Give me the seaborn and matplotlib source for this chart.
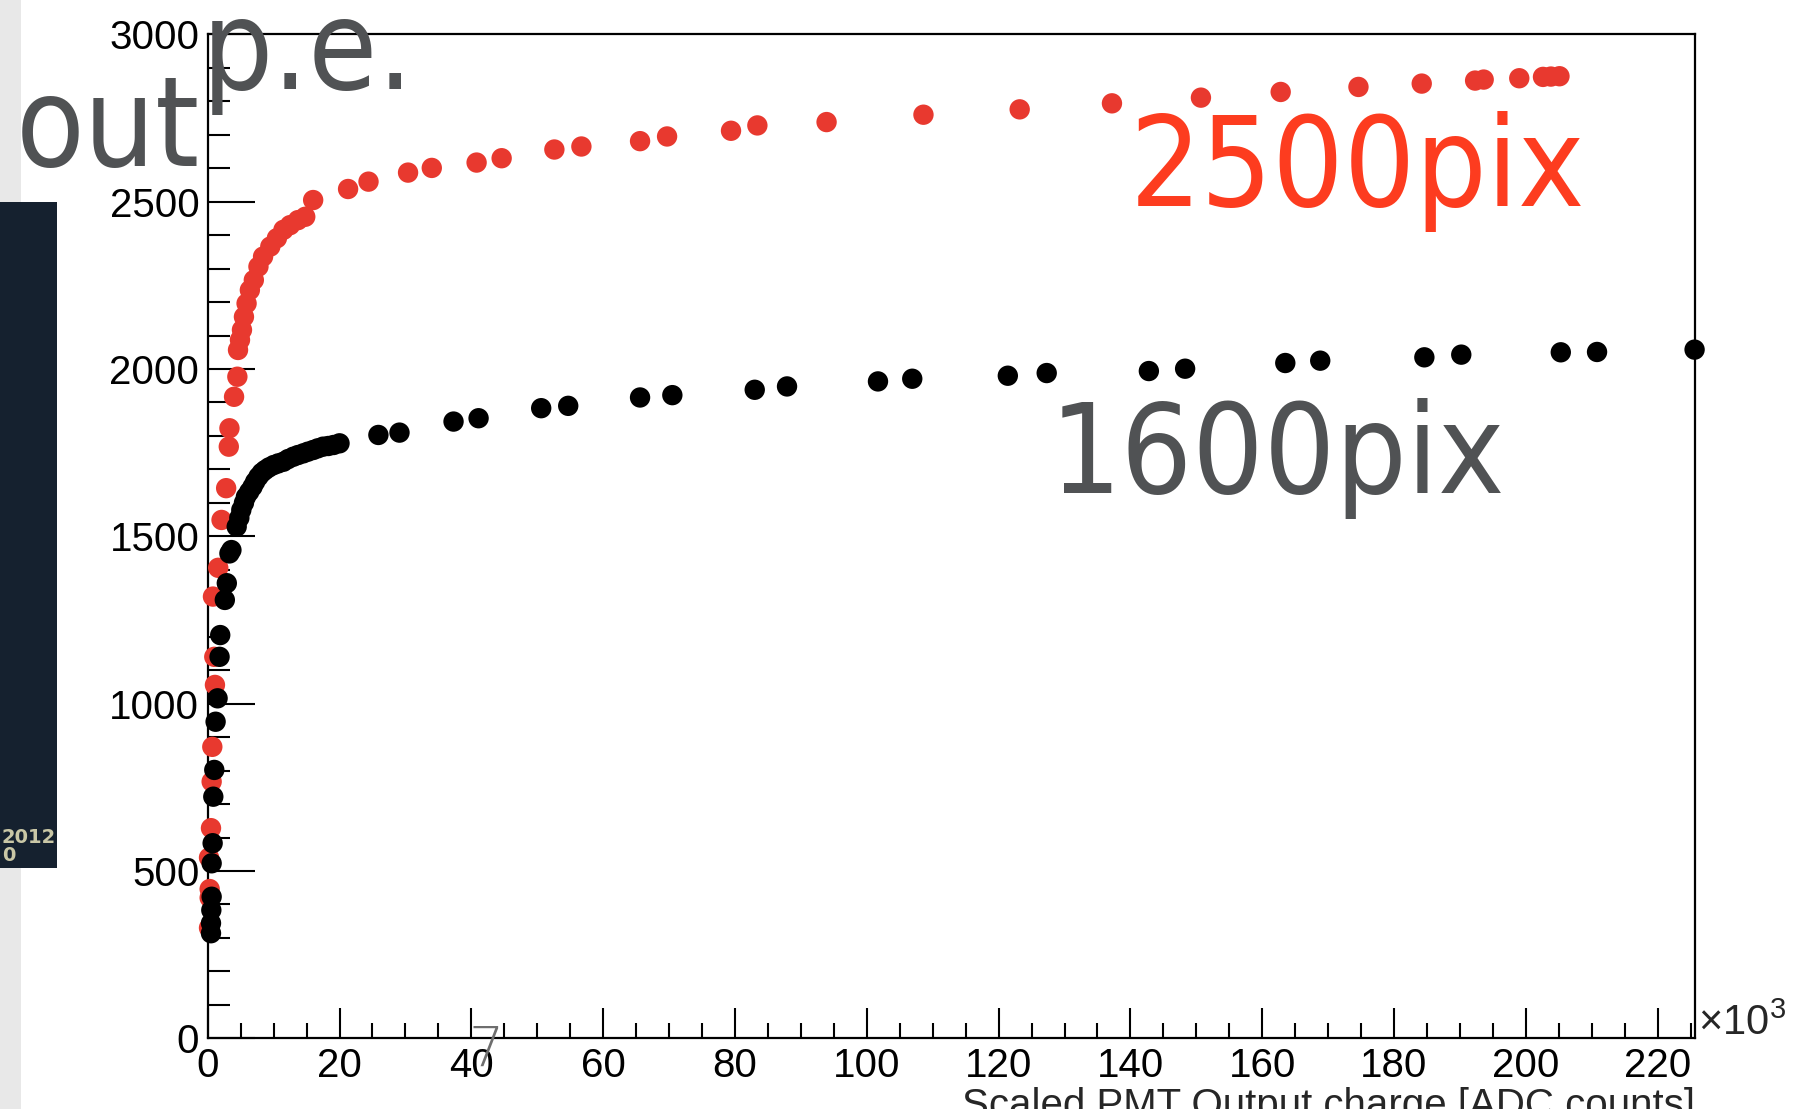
import numpy as np
import pandas as pd
import matplotlib
matplotlib.use("Agg")
import matplotlib.pyplot as plt
from matplotlib.patches import Rectangle
from matplotlib.ticker import MultipleLocator
import seaborn as sns

# Scaled PMT output charge (x10^3 ADC counts) vs. number of photoelectrons
charge_2500 = [0.2, 0.3, 0.3, 0.2, 0.5, 0.6, 0.7, 1.1, 1.0, 0.8, 1.6, 2.1, 2.8, 3.2, 3.3,
               4.0, 4.5, 4.6, 4.9, 5.2, 5.5, 5.9, 6.4, 7.0, 7.7, 8.4, 9.5, 10.5, 11.5,
               12.5, 13.7, 14.8, 16.0, 21.3, 24.4, 30.4, 34.0, 40.8, 44.6, 52.6, 56.7,
               65.6, 69.7, 79.4, 83.4, 93.9, 108.6, 123.2, 137.2, 150.7, 162.8, 174.6,
               184.2, 192.3, 193.6, 199.0, 202.6, 203.8, 205.1]
pe_2500 = [330, 420, 446, 540, 628, 767, 871, 1056, 1140, 1320, 1406, 1549, 1644, 1768, 1823,
           1917, 1977, 2057, 2087, 2117, 2156, 2196, 2236, 2266, 2306, 2336, 2366, 2391, 2416,
           2430, 2445, 2455, 2505, 2538, 2560, 2587, 2601, 2617, 2630, 2656, 2665,
           2681, 2695, 2712, 2728, 2738, 2760, 2776, 2794, 2811, 2828, 2843,
           2853, 2862, 2865, 2869, 2873, 2874, 2875]

charge_1600 = [0.5, 0.5, 0.55, 0.6, 0.6, 0.75, 0.85, 1.0, 1.2, 1.5, 1.8, 1.9, 2.6, 2.9, 3.3,
               3.6, 4.4, 4.8, 5.1, 5.5, 5.8, 6.3, 6.8, 7.2, 7.7, 8.2, 8.7, 9.3, 10.0, 10.7,
               11.5, 12.2, 13.0, 13.7, 14.5, 15.2, 16.0, 16.7, 17.5, 18.3, 19.1, 20.0,
               25.9, 29.1, 37.3, 41.1, 50.6, 54.7, 65.6, 70.5, 83.0, 87.9, 101.7, 106.9,
               121.4, 127.3, 142.8, 148.3, 163.5, 168.8, 184.6, 190.2, 205.3, 210.8, 225.6]
pe_1600 = [314, 344, 383, 423, 523, 583, 722, 802, 946, 1016, 1140, 1205, 1310, 1360, 1449,
           1459, 1529, 1555, 1579, 1600, 1618, 1633, 1648, 1663, 1678, 1690, 1698, 1706, 1713, 1718,
           1723, 1731, 1738, 1743, 1748, 1753, 1758, 1763, 1768, 1770, 1773, 1778,
           1803, 1810, 1843, 1853, 1883, 1890, 1915, 1922, 1938, 1948, 1963, 1971,
           1980, 1988, 1994, 2001, 2018, 2025, 2035, 2043, 2050, 2051, 2058]

x_ticks = [0, 20, 40, 60, 80, 100, 120, 140, 160, 180, 200, 220]
y_ticks = [0, 500, 1000, 1500, 2000, 2500, 3000]

RED = "#e8392f"
GRAY = "#505254"

df = pd.DataFrame({
    "charge": charge_2500 + charge_1600,
    "pe": pe_2500 + pe_1600,
    "sensor": ["2500pix"] * len(charge_2500) + ["1600pix"] * len(charge_1600),
})

sns.set_theme(style="white")
plt.rcParams["font.family"] = ["Liberation Sans", "DejaVu Sans"]
plt.rcParams["mathtext.fontset"] = "custom"
plt.rcParams["mathtext.rm"] = "Liberation Sans"
plt.rcParams["mathtext.default"] = "regular"

fig = plt.figure(figsize=(17.99, 11.09), dpi=100, facecolor="white")

# slide background pieces on the left edge
fig.add_artist(Rectangle((0, 0), 0.0117, 1, transform=fig.transFigure,
                         facecolor="#e8e8e8", edgecolor="none", zorder=0))
fig.add_artist(Rectangle((0, 0.2169), 0.0319, 0.601, transform=fig.transFigure,
                         facecolor="#15212f", edgecolor="none", zorder=1))
fig.text(0.001, 0.2399, "2012", color="#c9c7a6", fontsize=14, fontweight="bold",
         family="DejaVu Sans", zorder=2)
fig.text(0.001, 0.2235, "0", color="#c9c7a6", fontsize=14, fontweight="bold",
         family="DejaVu Sans", zorder=2)

ax = fig.add_axes([0.11545, 0.06375, 0.82651, 0.90523])
ax.set_facecolor("white")

sns.scatterplot(data=df, x="charge", y="pe", hue="sensor",
                palette={"2500pix": RED, "1600pix": "black"},
                hue_order=["2500pix", "1600pix"], s=215, linewidth=0,
                legend=False, ax=ax, clip_on=False, zorder=3)

ax.set_xlim(0, 225.6)
ax.set_ylim(0, 3000)
ax.set_xticks(x_ticks)
ax.set_xticklabels([str(v) for v in x_ticks])
ax.set_yticks(y_ticks)
ax.set_yticklabels([str(v) for v in y_ticks])
ax.xaxis.set_minor_locator(MultipleLocator(5))
ax.yaxis.set_minor_locator(MultipleLocator(100))

ax.tick_params(axis="both", which="both", direction="in", bottom=True, left=True,
               top=False, right=False, colors="black", width=1.5, labelsize=29)
ax.tick_params(axis="x", which="major", length=21.6, pad=6)
ax.tick_params(axis="x", which="minor", length=10.8)
ax.tick_params(axis="y", which="major", length=33.8, pad=6)
ax.tick_params(axis="y", which="minor", length=15.8)
for sp in ax.spines.values():
    sp.set_visible(True)
    sp.set_color("black")
    sp.set_linewidth(1.6)

ax.set_ylabel("")
ax.set_xlabel("Scaled PMT Output charge [ADC counts]", loc="right",
              fontsize=29, labelpad=2)
ax.text(1.0025, 0.014, r"$\times10^{3}$", transform=ax.transAxes,
        fontsize=30, ha="left", va="center")

# large overlaid annotations
big = dict(family="DejaVu Sans", fontstretch="condensed", fontsize=90, zorder=10)
fig.text(0.628, 0.8138, "2500pix", color="#fd3c1f", **big)
fig.text(0.5837, 0.5555, "1600pix", color=GRAY, **big)
fig.text(0.0085, 0.8503, "out", color=GRAY, **big)
fig.text(0.112, 0.9193, "p.e.", color=GRAY, **big)
fig.text(0.2605, 0.039, "7", color="#6e6e6e", fontsize=40, family="DejaVu Sans",
         fontweight="light", zorder=10)

fig.savefig("out.png", dpi=100, facecolor="white")
